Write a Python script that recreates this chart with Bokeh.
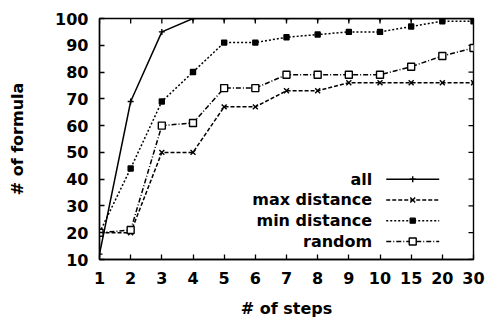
import math
from bokeh.plotting import figure
from bokeh.models import Range1d, FixedTicker
from bokeh.embed import file_html
from bokeh.resources import INLINE
from bokeh.core.properties import value

# ---- data ----
steps = ["1", "2", "3", "4", "5", "6", "7", "8", "9", "10", "15", "20", "30"]
all_vals = [12, 69, 95, 100, 100, 100, 100, 100, 100, 100, 100, 100, 100]
max_distance = [20, 20, 50, 50, 67, 67, 73, 73, 76, 76, 76, 76, 76]
min_distance = [20, 44, 69, 80, 91, 91, 93, 94, 95, 95, 97, 99, 99]
random_vals = [20, 21, 60, 61, 74, 74, 79, 79, 79, 79, 82, 86, 89]
series_names = ["all", "max distance", "min distance", "random"]
y_ticks = [10, 20, 30, 40, 50, 60, 70, 80, 90, 100]

FONT = "DejaVu Sans"
FS = "16px"
LW = 1.5

xs = list(range(len(steps)))
x_lo, x_hi = 0, len(steps) - 1
y_lo, y_hi = 10, 100

p = figure(width=485, height=320,
           x_range=Range1d(x_lo, x_hi), y_range=Range1d(y_lo, y_hi),
           output_backend="svg", toolbar_location=None,
           min_border_left=99, min_border_right=12,
           min_border_top=18, min_border_bottom=59)
p.outline_line_color = "black"
p.outline_line_width = 1.4
p.grid.visible = False
p.background_fill_color = "white"
p.border_fill_color = "white"

for ax in (p.xaxis[0], p.yaxis[0]):
    ax.axis_line_color = "black"
    ax.axis_line_width = 1.4
    ax.major_tick_in = 5
    ax.major_tick_out = 0
    ax.major_tick_line_color = "black"
    ax.major_tick_line_width = 1.3
    ax.minor_tick_line_color = None
    ax.major_label_text_font = FONT
    ax.major_label_text_font_size = FS
    ax.major_label_text_font_style = "bold"
    ax.major_label_text_color = "black"
    ax.axis_label_text_font = FONT
    ax.axis_label_text_font_size = FS
    ax.axis_label_text_font_style = "bold"
    ax.axis_label_text_color = "black"

xa = p.xaxis[0]
xa.ticker = FixedTicker(ticks=xs)
xa.major_label_overrides = {i: s for i, s in enumerate(steps)}
xa.axis_label = "# of steps"
xa.major_label_standoff = 12
xa.axis_label_standoff = 12

ya = p.yaxis[0]
ya.ticker = FixedTicker(ticks=y_ticks)
ya.axis_label = "# of formula"
ya.major_label_standoff = 11
ya.axis_label_standoff = 25

# mirrored inward ticks on top and right edges
p.ray(x=xs, y=[y_hi] * len(xs), length=5, length_units="screen",
      angle=-math.pi / 2, line_color="black", line_width=1.3)
p.ray(x=[x_hi] * len(y_ticks), y=y_ticks, length=5, length_units="screen",
      angle=math.pi, line_color="black", line_width=1.3)

series = [all_vals, max_distance, min_distance, random_vals]
dashes = ["solid", "4 2", "2 2", "5 2 1 2"]
markers = ["cross", "x", "square", "square"]
msizes = [6, 7, 5, 7]
mfill = ["black", "black", "black", "white"]

for vals, dash, mk, ms, fc in zip(series, dashes, markers, msizes, mfill):
    p.line(xs, vals, line_color="black", line_width=LW, line_dash=dash)
    p.scatter(xs, vals, marker=mk, size=ms, line_color="black",
              fill_color=fc, line_width=1.4)

# ---- legend (label left, sample right) ----
lx_text, lx0, lx1, lxm = 8.75, 9.2, 10.9, 10.05
ly0, ldy = 40.0, 7.75
for i, (name, dash, mk, ms, fc) in enumerate(zip(series_names, dashes, markers, msizes, mfill)):
    yy = ly0 - i * ldy
    p.text(x=[lx_text], y=[yy], text=[name], text_align="right",
           text_baseline="middle", text_font=value(FONT), text_font_size=FS,
           text_font_style="bold", text_color="black")
    p.line([lx0, lx1], [yy, yy], line_color="black", line_width=LW, line_dash=dash)
    p.scatter([lxm], [yy], marker=mk, size=ms, line_color="black",
              fill_color=fc, line_width=1.4)

open("out.html", "w").write(file_html(p, INLINE))
